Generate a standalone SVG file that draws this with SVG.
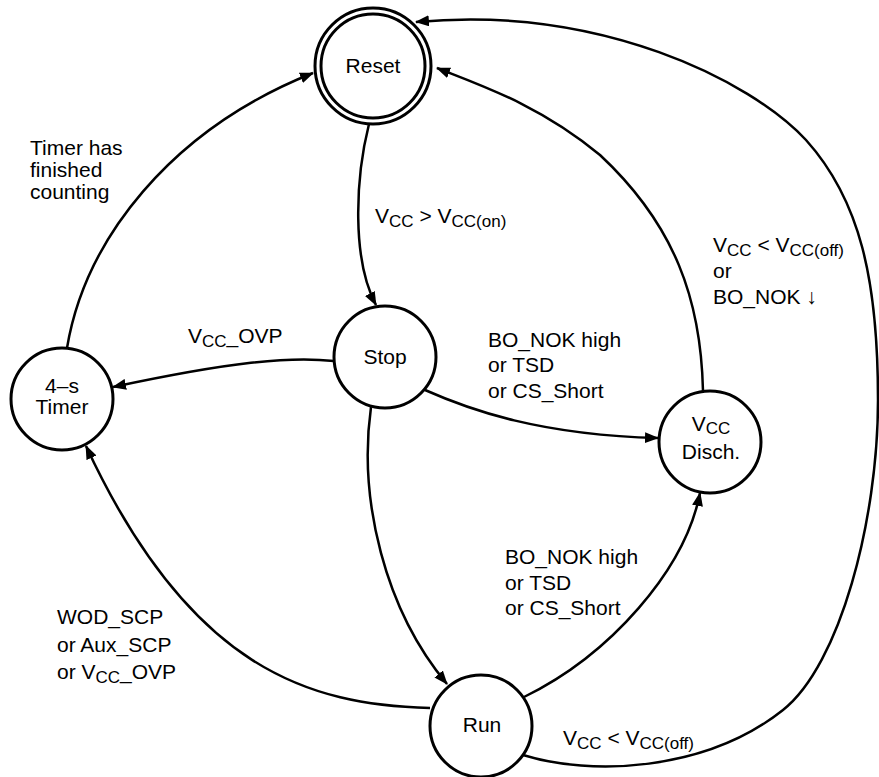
<svg xmlns="http://www.w3.org/2000/svg" width="879" height="777" viewBox="0 0 879 777">
<style>
text{font-family:"Liberation Sans",Arial,Helvetica,sans-serif;font-size:21px;fill:#000}
.c{text-anchor:middle}
.sub{font-size:17px}
.node{fill:#fff;stroke:#000;stroke-width:3}
.edge{fill:none;stroke:#000;stroke-width:2.5;marker-end:url(#ah)}
</style>
<defs>
<marker id="ah" viewBox="0 0 14 11" refX="13" refY="5.5" markerWidth="14" markerHeight="11" markerUnits="userSpaceOnUse" orient="auto">
<path d="M0,0 L14,5.5 L0,11 z" fill="#000"/>
</marker>
</defs>
<rect width="879" height="777" fill="#fff"/>
<g id="connectors">
<path class="edge" d="M369,124 C355,180 352,260 376,305"/>
<path class="edge" d="M67,348 C85,240 170,130 313,73"/>
<path class="edge" d="M703,391 C701,300 675,225 600,155 C540,105 480,85 437,68"/>
<path class="edge" d="M334,361 C290,356 230,362 113,387"/>
<path class="edge" d="M425,390 C470,410 540,435 658,438"/>
<path class="edge" d="M371,407 C358,500 385,610 447,684"/>
<path class="edge" d="M430,708 C310,705 190,670 86,446"/>
<path class="edge" d="M524,697 C610,655 685,570 700,493"/>
<path class="edge" d="M523,755 C590,776 705,772 783,710 C840,665 878,520 878,400 C878,280 860,200 806,140 C750,80 600,5 416,22"/>
</g>
<g id="reset">
<circle class="node" cx="373" cy="66" r="58"/>
<circle class="node" cx="373" cy="66" r="52"/>
<text class="c" x="373" y="73">Reset</text>
</g>
<g id="stop">
<circle class="node" cx="385" cy="357" r="51"/>
<text class="c" x="385" y="364">Stop</text>
</g>
<g id="timer">
<circle class="node" cx="62" cy="399" r="51"/>
<text class="c" x="62" y="393">4–s</text>
<text class="c" x="62" y="414">Timer</text>
</g>
<g id="disch">
<circle class="node" cx="710" cy="442" r="51"/>
<text class="c" x="711" y="431">V<tspan class="sub" dy="3">CC</tspan></text>
<text class="c" x="711" y="459">Disch.</text>
</g>
<g id="run">
<circle class="node" cx="481" cy="726" r="51"/>
<text class="c" x="482" y="732">Run</text>
</g>
<g id="labels">
<text x="30" y="155">Timer has</text>
<text x="30" y="177">finished</text>
<text x="30" y="199">counting</text>
<text x="375" y="223">V<tspan class="sub" dy="4">CC</tspan><tspan dy="-4"> &gt; V</tspan><tspan class="sub" dy="4">CC(on)</tspan></text>
<text x="713" y="252">V<tspan class="sub" dy="4">CC</tspan><tspan dy="-4"> &lt; V</tspan><tspan class="sub" dy="4">CC(off)</tspan></text>
<text x="713" y="278">or</text>
<text x="713" y="304">BO_NOK ↓</text>
<text x="188" y="343">V<tspan class="sub" dy="4">CC</tspan><tspan dy="-4">_OVP</tspan></text>
<text x="488" y="347">BO_NOK high</text>
<text x="488" y="372">or TSD</text>
<text x="488" y="398">or CS_Short</text>
<text x="505" y="564">BO_NOK high</text>
<text x="505" y="590">or TSD</text>
<text x="505" y="615">or CS_Short</text>
<text x="57" y="624">WOD_SCP</text>
<text x="57" y="652">or Aux_SCP</text>
<text x="57" y="679">or V<tspan class="sub" dy="4">CC</tspan><tspan dy="-4">_OVP</tspan></text>
<text x="563" y="745">V<tspan class="sub" dy="4">CC</tspan><tspan dy="-4"> &lt; V</tspan><tspan class="sub" dy="4">CC(off)</tspan></text>
</g>
</svg>
